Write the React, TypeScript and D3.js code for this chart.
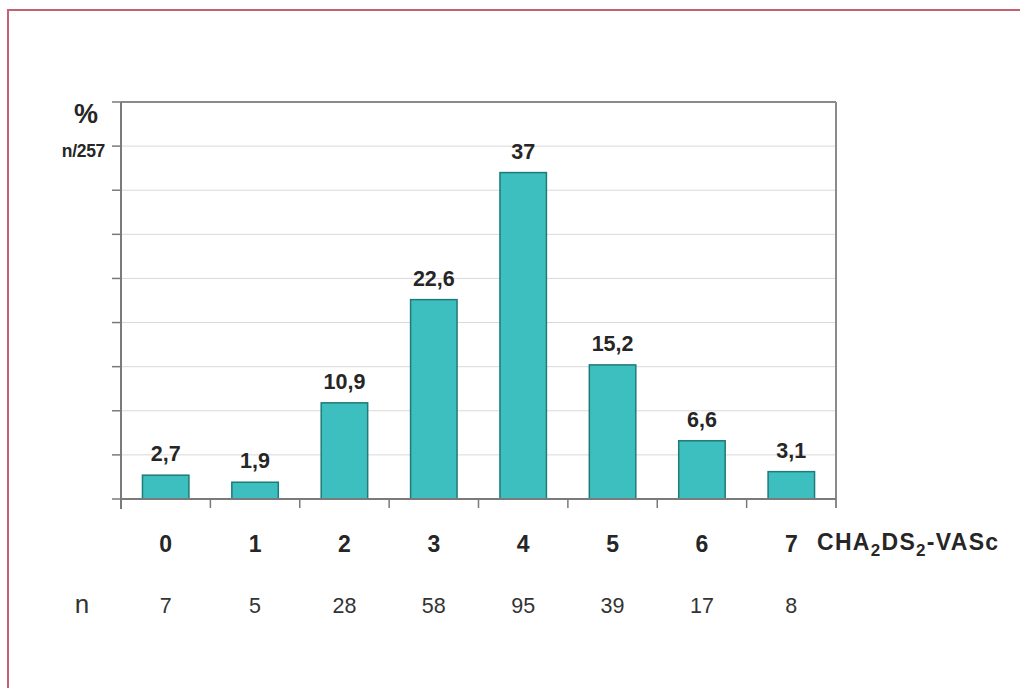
import React from 'react';
import * as d3 from 'd3';

// CHA2DS2-VASc score distribution
const scores = ['0', '1', '2', '3', '4', '5', '6', '7'];
const percents = [2.7, 1.9, 10.9, 22.6, 37, 15.2, 6.6, 3.1];
const counts = [7, 5, 28, 58, 95, 39, 17, 8];
const yTicks = [0, 5, 10, 15, 20, 25, 30, 35, 40, 45];

const W = 1020;
const H = 688;
const plot = { left: 121, right: 836, top: 102, bottom: 499 };
const font = '"Liberation Sans", Arial, sans-serif';
const ink = '#262626';

const App = () => {
  const x = d3.scaleBand<string>()
    .domain(scores)
    .range([plot.left, plot.right])
    .paddingInner(0.48)
    .paddingOuter(0.24);

  const y = d3.scaleLinear()
    .domain([0, 45])
    .range([plot.bottom, plot.top]);

  const step = x.step();
  const center = (s: string) => (x(s) as number) + x.bandwidth() / 2;

  return (
    <svg
      width={W}
      height={H}
      style={{ position: 'absolute', left: 0, top: 0, background: '#fff' }}
      fontFamily={font}
    >
      {/* outer frame */}
      <rect x={8} y={10} width={1040} height={700} fill="none" stroke="#c26272" strokeWidth={2} />

      {/* grid */}
      {yTicks.slice(1, -1).map(t => (
        <line key={'g' + t} x1={plot.left} x2={plot.right} y1={y(t)} y2={y(t)} stroke="#d9d9d9" strokeWidth={1} />
      ))}
      {/* top and right of plot box */}
      <line x1={plot.left} x2={plot.right} y1={y(45)} y2={y(45)} stroke="#8a8a8a" strokeWidth={2} />
      <line x1={plot.right} x2={plot.right} y1={plot.top} y2={plot.bottom + 9} stroke="#8a8a8a" strokeWidth={2} />

      {/* bars */}
      {percents.map((v, i) => (
        <rect
          key={'b' + i}
          x={x(scores[i])}
          y={y(v)}
          width={x.bandwidth()}
          height={plot.bottom - y(v)}
          fill="#3cbfbe"
          stroke="#1f7a78"
          strokeWidth={1.5}
        />
      ))}

      {/* value labels */}
      {percents.map((v, i) => (
        <text
          key={'v' + i}
          x={center(scores[i])}
          y={y(v) - 14}
          textAnchor="middle"
          fontSize={21.5}
          fontWeight="bold"
          fill={ink}
        >
          {String(v).replace('.', ',')}
        </text>
      ))}

      {/* y axis */}
      <line x1={plot.left} x2={plot.left} y1={plot.top} y2={plot.bottom + 10} stroke="#7a7a7a" strokeWidth={2} />
      {yTicks.map(t => (
        <line key={'t' + t} x1={plot.left - 9} x2={plot.left} y1={y(t)} y2={y(t)} stroke="#7a7a7a" strokeWidth={1.5} />
      ))}

      {/* x axis */}
      <line x1={plot.left} x2={plot.right} y1={plot.bottom} y2={plot.bottom} stroke="#7a7a7a" strokeWidth={2} />
      {scores.slice(1).map(s => {
        const bx = (x(s) as number) - (step - x.bandwidth()) / 2;
        return (
          <line key={'x' + s} x1={bx} x2={bx} y1={plot.bottom} y2={plot.bottom + 9} stroke="#7a7a7a" strokeWidth={1.5} />
        );
      })}

      {/* axis captions */}
      <text x={86} y={123} textAnchor="middle" fontSize={27} fontWeight="bold" fill={ink}>%</text>
      <text x={105} y={157} textAnchor="end" fontSize={17.5} fontWeight="bold" fill={ink} letterSpacing={-0.3}>n/257</text>

      {/* category labels */}
      {scores.map(s => (
        <text key={'c' + s} x={center(s)} y={552} textAnchor="middle" fontSize={23} fontWeight="bold" fill={ink}>
          {s}
        </text>
      ))}
      <text x={817} y={550} fontSize={23} fontWeight="bold" fill={ink} letterSpacing={1.3}>
        CHA<tspan fontSize={17} dy={6}>2</tspan>
        <tspan dy={-6}>DS</tspan>
        <tspan fontSize={17} dy={6}>2</tspan>
        <tspan dy={-6}>-VASc</tspan>
      </text>

      {/* n row */}
      <text x={82} y={613} textAnchor="middle" fontSize={26} fill="#333">n</text>
      {counts.map((c, i) => (
        <text key={'n' + i} x={center(scores[i])} y={613} textAnchor="middle" fontSize={21.5} fill="#333">
          {c}
        </text>
      ))}
    </svg>
  );
};

export default App;
